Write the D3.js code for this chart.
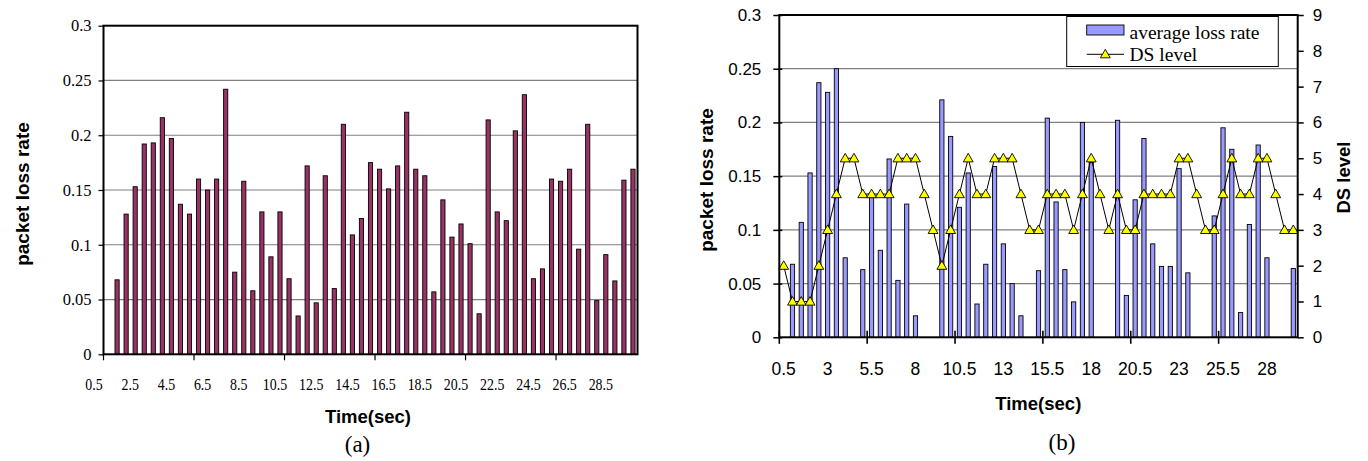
<!DOCTYPE html>
<html><head><meta charset="utf-8">
<script src="https://cdn.jsdelivr.net/npm/d3@7"></script>
<style>body{margin:0;background:#fff}svg{display:block}</style>
</head><body><svg id="c" width="1368" height="461"></svg>
<script>
// ---------- data ----------
const categories = ["0.5","1","1.5","2","2.5","3","3.5","4","4.5","5","5.5","6","6.5","7","7.5","8","8.5","9","9.5","10",
  "10.5","11","11.5","12","12.5","13","13.5","14","14.5","15","15.5","16","16.5","17","17.5","18","18.5","19","19.5","20",
  "20.5","21","21.5","22","22.5","23","23.5","24","24.5","25","25.5","26","26.5","27","27.5","28","28.5","29","29.5"];

// (a) packet loss rate per 0.5 s
const lossA = [0, 0.068, 0.128, 0.153, 0.192, 0.193, 0.216, 0.197, 0.137, 0.128,
  0.160, 0.150, 0.160, 0.242, 0.075, 0.158, 0.058, 0.130, 0.089, 0.130,
  0.069, 0.035, 0.172, 0.047, 0.163, 0.060, 0.210, 0.109, 0.124, 0.175,
  0.169, 0.151, 0.172, 0.221, 0.169, 0.163, 0.057, 0.141, 0.107, 0.119,
  0.101, 0.037, 0.214, 0.130, 0.122, 0.204, 0.237, 0.069, 0.078, 0.160,
  0.158, 0.169, 0.096, 0.210, 0.049, 0.091, 0.067, 0.159, 0.169];

// (b) average loss rate
const lossB = [0, 0.068, 0.107, 0.153, 0.237, 0.228, 0.250, 0.074, 0, 0.063,
  0.130, 0.081, 0.166, 0.053, 0.124, 0.020, 0, 0, 0.221, 0.187,
  0.121, 0.153, 0.031, 0.068, 0.159, 0.087, 0.050, 0.020, 0, 0.062,
  0.204, 0.126, 0.063, 0.033, 0.200, 0.163, 0, 0, 0.202, 0.039,
  0.128, 0.185, 0.087, 0.066, 0.066, 0.157, 0.060, 0, 0, 0.113,
  0.195, 0.175, 0.023, 0.105, 0.179, 0.074, 0, 0, 0.064];

// (b) DS level
const dsLevelB = [2,1,1,1,2,3,4,5,5,4, 4,4,4,5,5,5,4,3,2,3, 4,5,4,4,5,5,5,4,3,3,
  4,4,4,3,4,5,4,3,4,3, 3,4,4,4,4,5,5,4,3,3, 4,5,4,4,5,5,4,3,3];

const yTicksLoss = [0, 0.05, 0.1, 0.15, 0.2, 0.25, 0.3];
const yLabelsLoss = ["0","0.05","0.1","0.15","0.2","0.25","0.3"];
const yTicksDS = [0,1,2,3,4,5,6,7,8,9];
const xLabelsA = ["0.5","2.5","4.5","6.5","8.5","10.5","12.5","14.5","16.5","18.5","20.5","22.5","24.5","26.5","28.5"];
const xLabelsB = ["0.5","3","5.5","8","10.5","13","15.5","18","20.5","23","25.5","28"];
const xTickCats = ["0.5","5.5","10.5","15.5","20.5","25.5"];

// ---------- drawing ----------
const SERIF = "'Liberation Serif','Times New Roman',serif";
const SANS = "'Liberation Sans',Arial,sans-serif";
const svg = d3.select("#c");
svg.append("rect").attr("width",1368).attr("height",461).attr("fill","#fff");

// ===== Chart (a) =====
const A = {l:103.5, r:637.5, t:25.7, b:354.3};
const xA = d3.scaleBand().domain(categories).range([A.l, A.r]);
const yA = d3.scaleLinear().domain([0, 0.3]).range([A.b, A.t]);
const gA = svg.append("g");

gA.selectAll("line.grid").data(yTicksLoss.filter(v => v > 0 && v < 0.3)).join("line")
  .attr("class","grid")
  .attr("x1", A.l).attr("x2", A.r).attr("y1", d => yA(d)).attr("y2", d => yA(d))
  .attr("stroke", "#808080").attr("stroke-width", 1.2);

gA.selectAll("rect.bar").data(categories.map((c, i) => ({c, v: lossA[i]})).filter(d => d.v > 0)).join("rect")
  .attr("class","bar")
  .attr("x", d => xA(d.c) + xA.bandwidth() * 0.27).attr("width", xA.bandwidth() * 0.46)
  .attr("y", d => yA(d.v)).attr("height", d => yA(0) - yA(d.v))
  .attr("fill", "#993366").attr("stroke", "#000").attr("stroke-width", 0.9);

gA.append("rect").attr("x", A.l).attr("y", A.t).attr("width", A.r - A.l).attr("height", A.b - A.t)
  .attr("fill", "none").attr("stroke", "#000").attr("stroke-width", 2);

const axA = gA.append("g").attr("transform", `translate(${A.l},0)`)
  .call(d3.axisLeft(yA).tickValues(yTicksLoss).tickSize(5).tickPadding(7)
    .tickFormat((d, i) => yLabelsLoss[i]));
axA.select(".domain").remove();
axA.selectAll("line").attr("stroke", "#000").attr("stroke-width", 1.2);
axA.selectAll("text").attr("font-family", SERIF).attr("font-size", 16.5).attr("fill", "#000");

gA.selectAll("line.xt").data(xTickCats).join("line").attr("class","xt")
  .attr("x1", d => xA(d)).attr("x2", d => xA(d)).attr("y1", A.b).attr("y2", A.b + 6)
  .attr("stroke", "#000").attr("stroke-width", 1.2);

gA.selectAll("text.xl").data(xLabelsA).join("text").attr("class","xl")
  .attr("transform", d => `translate(${xA(d) - 9.5},390) scale(0.82,1)`)
  .attr("text-anchor", "middle").attr("font-family", SERIF).attr("font-size", 17).attr("fill", "#000")
  .text(d => d);

gA.append("text").attr("transform", "translate(29,194) rotate(-90)").attr("text-anchor", "middle")
  .attr("font-family", SANS).attr("font-weight", "bold").attr("font-size", 19).text("packet loss rate");
gA.append("text").attr("x", 368).attr("y", 423).attr("text-anchor", "middle")
  .attr("font-family", SANS).attr("font-weight", "bold").attr("font-size", 18.5).text("Time(sec)");
gA.append("text").attr("x", 357.5).attr("y", 452).attr("text-anchor", "middle")
  .attr("font-family", SERIF).attr("font-size", 23).text("(a)");

// ===== Chart (b) =====
const B = {l:779.3, r:1297.7, t:15, b:337.3};
const xB = d3.scaleBand().domain(categories).range([B.l, B.r]);
const yB = d3.scaleLinear().domain([0, 0.3]).range([B.b, B.t]);
const yR = d3.scaleLinear().domain([0, 9]).range([B.b, B.t]);
const gB = svg.append("g");

gB.selectAll("line.grid").data(yTicksLoss.filter(v => v > 0 && v < 0.3)).join("line")
  .attr("class","grid")
  .attr("x1", B.l).attr("x2", B.r).attr("y1", d => yB(d)).attr("y2", d => yB(d))
  .attr("stroke", "#808080").attr("stroke-width", 1.2);

gB.selectAll("rect.bar").data(categories.map((c, i) => ({c, v: lossB[i]})).filter(d => d.v > 0)).join("rect")
  .attr("class","bar")
  .attr("x", d => xB(d.c) + xB.bandwidth() * 0.26).attr("width", xB.bandwidth() * 0.48)
  .attr("y", d => yB(d.v)).attr("height", d => yB(0) - yB(d.v))
  .attr("fill", "#9999FF").attr("stroke", "#000").attr("stroke-width", 0.9);

const dsPts = categories.map((c, i) => ({c, v: dsLevelB[i]}));
gB.append("path").datum(dsPts)
  .attr("d", d3.line().x(d => xB(d.c) + xB.bandwidth() / 2).y(d => yR(d.v)))
  .attr("fill", "none").attr("stroke", "#000").attr("stroke-width", 1);
const tri = d3.symbol(d3.symbolTriangle, 42);
gB.selectAll("path.mk").data(dsPts).join("path").attr("class","mk")
  .attr("transform", d => `translate(${xB(d.c) + xB.bandwidth() / 2},${yR(d.v) + 0.8})`)
  .attr("d", tri).attr("fill", "#FFFF00").attr("stroke", "#000").attr("stroke-width", 0.9);

gB.append("rect").attr("x", B.l).attr("y", B.t).attr("width", B.r - B.l).attr("height", B.b - B.t)
  .attr("fill", "none").attr("stroke", "#000").attr("stroke-width", 2);

const axBL = gB.append("g").attr("transform", `translate(${B.l},0)`)
  .call(d3.axisLeft(yB).tickValues(yTicksLoss).tickSize(6).tickPadding(12)
    .tickFormat((d, i) => yLabelsLoss[i]));
axBL.select(".domain").remove();
axBL.selectAll("line").attr("x1", 3).attr("stroke", "#000").attr("stroke-width", 1.5);
axBL.selectAll("text").attr("font-family", SANS).attr("font-size", 17).attr("fill", "#000");

const axBR = gB.append("g").attr("transform", `translate(${B.r},0)`)
  .call(d3.axisRight(yR).tickValues(yTicksDS).tickSize(6).tickPadding(9).tickFormat(d => String(d)));
axBR.select(".domain").remove();
axBR.selectAll("line").attr("stroke", "#000").attr("stroke-width", 1.5);
axBR.selectAll("text").attr("font-family", SANS).attr("font-size", 17).attr("fill", "#000");

gB.selectAll("line.xt").data(xTickCats).join("line").attr("class","xt")
  .attr("x1", d => xB(d)).attr("x2", d => xB(d)).attr("y1", B.b - 6.5).attr("y2", B.b + 6.5)
  .attr("stroke", "#000").attr("stroke-width", 1.6);

gB.selectAll("text.xl").data(xLabelsB).join("text").attr("class","xl")
  .attr("x", d => xB(d) + xB.bandwidth() / 2).attr("y", 375)
  .attr("text-anchor", "middle").attr("font-family", SANS).attr("font-size", 17.5).attr("fill", "#000")
  .text(d => d);

gB.append("text").attr("transform", "translate(712.5,180) rotate(-90)").attr("text-anchor", "middle")
  .attr("font-family", SANS).attr("font-weight", "bold").attr("font-size", 19).text("packet loss rate");
gB.append("text").attr("transform", "translate(1350,177.5) rotate(-90)").attr("text-anchor", "middle")
  .attr("font-family", SANS).attr("font-weight", "bold").attr("font-size", 18.5).text("DS level");
gB.append("text").attr("x", 1038.3).attr("y", 410).attr("text-anchor", "middle")
  .attr("font-family", SANS).attr("font-weight", "bold").attr("font-size", 18.5).text("Time(sec)");
gB.append("text").attr("x", 1062).attr("y", 450).attr("text-anchor", "middle")
  .attr("font-family", SERIF).attr("font-size", 23).text("(b)");

// legend
const lg = gB.append("g");
lg.append("rect").attr("x", 1066.7).attr("y", 16.5).attr("width", 211.6).attr("height", 50)
  .attr("fill", "#fff").attr("stroke", "#000").attr("stroke-width", 1);
lg.append("rect").attr("x", 1086.7).attr("y", 25).attr("width", 37.3).attr("height", 10)
  .attr("fill", "#9999FF").attr("stroke", "#000").attr("stroke-width", 0.9);
lg.append("text").attr("x", 1129.5).attr("y", 38.5).attr("font-family", SERIF).attr("font-size", 19.5)
  .text("average loss rate");
lg.append("line").attr("x1", 1086.7).attr("x2", 1124).attr("y1", 54.3).attr("y2", 54.3)
  .attr("stroke", "#000").attr("stroke-width", 1);
lg.append("path").attr("transform", "translate(1105.3,55)").attr("d", tri)
  .attr("fill", "#FFFF00").attr("stroke", "#000").attr("stroke-width", 0.9);
lg.append("text").attr("x", 1129.5).attr("y", 61).attr("font-family", SERIF).attr("font-size", 19.5)
  .text("DS level");
</script></body></html>
